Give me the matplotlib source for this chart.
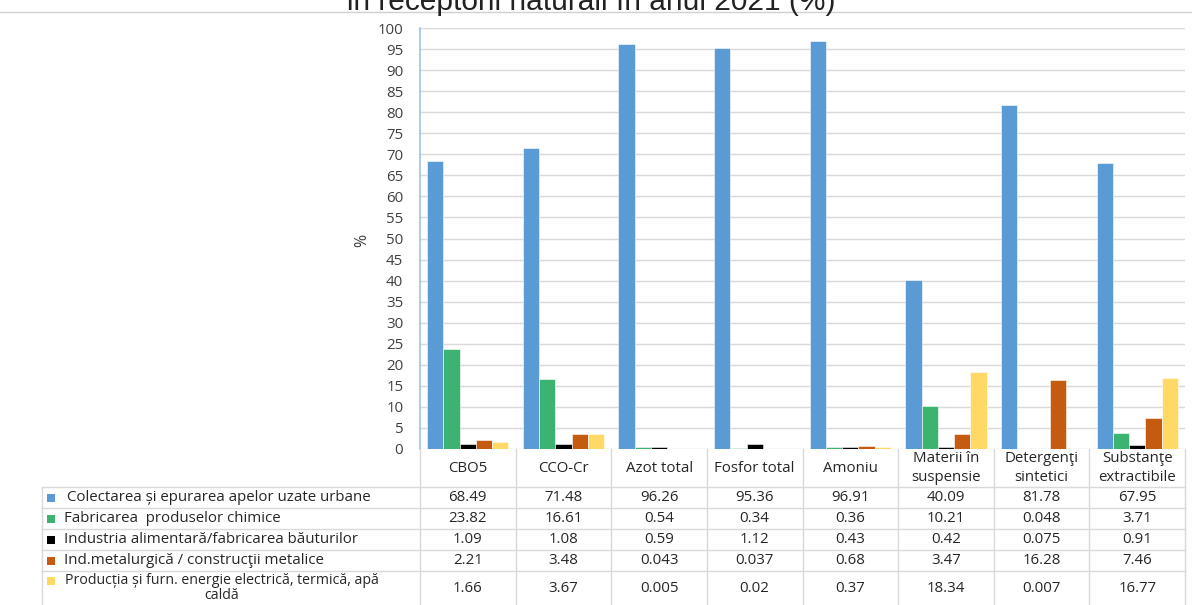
import matplotlib
matplotlib.use("Agg")
import matplotlib.pyplot as plt
from matplotlib.lines import Line2D
from matplotlib.patches import Rectangle
import matplotlib.transforms as mtransforms
import numpy as np

plt.rcParams['font.family'] = ['Open Sans', 'DejaVu Sans']

title = "în receptorii naturali în anul 2021 (%)"
categories = ["CBO5", "CCO-Cr", "Azot total", "Fosfor total", "Amoniu",
              "Materii în\nsuspensie", "Detergenţi\nsintetici", "Substanţe\nextractibile"]
series_names = [
    "Colectarea și epurarea apelor uzate urbane",
    "Fabricarea  produselor chimice",
    "Industria alimentară/fabricarea băuturilor",
    "Ind.metalurgică / construcţii metalice",
    "Producția și furn. energie electrică, termică, apă\ncaldă",
]
colectarea = [68.49, 71.48, 96.26, 95.36, 96.91, 40.09, 81.78, 67.95]
chimice = [23.82, 16.61, 0.54, 0.34, 0.36, 10.21, 0.048, 3.71]
alimentara = [1.09, 1.08, 0.59, 1.12, 0.43, 0.42, 0.075, 0.91]
metalurgica = [2.21, 3.48, 0.043, 0.037, 0.68, 3.47, 16.28, 7.46]
energie = [1.66, 3.67, 0.005, 0.02, 0.37, 18.34, 0.007, 16.77]
series = [colectarea, chimice, alimentara, metalurgica, energie]
colors = ["#5B9BD5", "#3CB371", "#000000", "#C55A11", "#FFD966"]
yticks = list(range(0, 101, 5))

W, H = 1192, 605
fig = plt.figure(figsize=(W / 100, H / 100), dpi=100)

def fx(x):
    return x / W

def fy(y):
    return 1 - y / H

FS = 10.8
TC = '#262626'

ax_l, ax_r, ax_t, ax_b = 420, 1185, 28, 449
ax = fig.add_axes([fx(ax_l), fy(ax_b), fx(ax_r - ax_l), fy(ax_t) - fy(ax_b)])
n = len(categories)
x = np.arange(n)
bw = 0.17
for k, (vals, c) in enumerate(zip(series, colors)):
    ax.bar(x + (k - 2) * bw, vals, width=bw, color=c, edgecolor='white', linewidth=0.4, zorder=3)
ax.set_xlim(-0.5, n - 0.5)
ax.set_ylim(0, 100)
ax.set_yticks(yticks)
ax.set_yticklabels([str(t) for t in yticks], fontsize=FS, color='#404040')
ax.set_xticks([])
ax.tick_params(axis='y', length=0, pad=12)
ax.grid(axis='y', color='#D9D9D9', linewidth=1, zorder=0)
for s in ['top', 'right', 'bottom']:
    ax.spines[s].set_visible(False)
ax.spines['left'].set_color('#9DC3E6')
ax.spines['left'].set_linewidth(1.2)
fig.text(fx(362), fy(240), "%", rotation=90, fontsize=11.5, color='#404040', ha='center', va='center')

# title (partly cut at top, as in the reference) and separator line
fig.text(fx(591), fy(10), title, fontsize=21.5, family=['Liberation Sans', 'DejaVu Sans'],
         ha='center', va='baseline', color='#222222')
fig.add_artist(Line2D([0, 1], [fy(12), fy(12)], transform=fig.transFigure, color='#D0D0D0', lw=1))

# data table
tr = mtransforms.blended_transform_factory(ax.transData, fig.transFigure)
lc = '#D9D9D9'
row_lines = [487, 508, 529, 550, 571]
for yl in row_lines:
    fig.add_artist(Line2D([fx(42), fx(ax_r)], [fy(yl), fy(yl)], transform=fig.transFigure, color=lc, lw=1))
fig.add_artist(Line2D([fx(42), fx(42)], [fy(487), fy(605)], transform=fig.transFigure, color=lc, lw=1))
for i in range(n + 1):
    fig.add_artist(Line2D([i - 0.5, i - 0.5], [fy(449), fy(605)], transform=tr, color=lc, lw=1))

hdr_y = 468
for i, cat in enumerate(categories):
    fig.text(i, fy(hdr_y), cat, transform=tr, ha='center', va='center', fontsize=FS,
             color=TC, linespacing=1.3)

row_centers = [497.5, 518.5, 539.5, 560.5, 588]
for r, (vals, c, name) in enumerate(zip(series, colors, series_names)):
    yc = row_centers[r]
    for i, v in enumerate(vals):
        fig.text(i, fy(yc), str(v), transform=tr, ha='center', va='center', fontsize=FS, color=TC)
    ys = yc - 7 if '\n' in name else yc
    fig.add_artist(Rectangle((fx(47), fy(ys + 4)), fx(8), fy(ys - 4) - fy(ys + 4),
                             transform=fig.transFigure, color=c, lw=0))
    if '\n' in name:
        fig.text(fx(222), fy(yc), name, ha='center', va='center', fontsize=10.2, color=TC,
                 linespacing=1.05)
    else:
        fig.text(fx(64 + (3 if r == 0 else 0)), fy(yc), name, ha='left', va='center', fontsize=FS, color=TC)

fig.savefig("out.png", dpi=100)
